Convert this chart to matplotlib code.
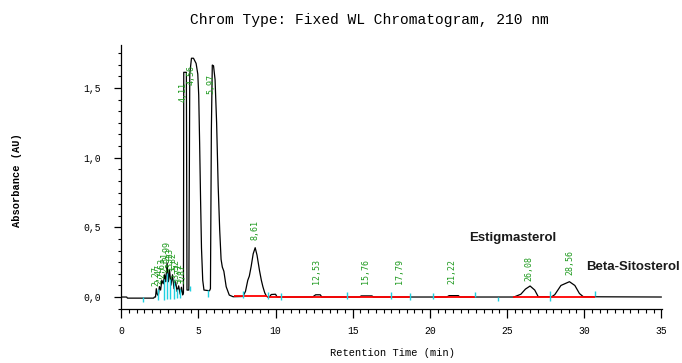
import numpy as np
import matplotlib
matplotlib.use("Agg")
import matplotlib.pyplot as plt
from matplotlib.ticker import MultipleLocator, AutoMinorLocator

# chromatogram trace (time in min, absorbance in AU)
trace_time = [0.00, 0.35, 0.40, 2.10, 2.15, 2.22, 2.27, 2.33, 2.40, 2.47,
              2.55, 2.63, 2.72, 2.81, 2.88, 2.97, 3.05, 3.13, 3.22, 3.32,
              3.42, 3.52, 3.62, 3.72, 3.82, 3.90, 3.98, 4.03, 4.05, 4.22,
              4.26, 4.38, 4.44, 4.55, 4.68, 4.85, 4.96, 5.02, 5.08, 5.14,
              5.20, 5.28, 5.36, 5.72, 5.78, 5.84, 5.90, 5.98, 6.08, 6.18,
              6.28, 6.38, 6.47, 6.55, 6.65, 6.80, 7.00, 7.25, 7.88, 8.05,
              8.20, 8.30, 8.42, 8.55, 8.68, 8.80, 8.96, 9.08, 9.18, 9.30,
              9.42, 9.60, 9.72, 10.00, 10.10, 12.40, 12.60, 12.90, 13.00, 15.45,
              15.55, 16.25, 16.35, 21.10, 21.25, 21.85, 21.95, 25.45, 25.90, 26.20,
              26.50, 26.80, 27.03, 27.90, 28.10, 28.50, 29.05, 29.40, 29.70, 29.95,
              35.00]
trace_abs = [0.000, 0.000, -0.008, -0.008, 0.000, 0.000, 0.060, 0.020, 0.010, 0.075,
             0.050, 0.120, 0.095, 0.160, 0.110, 0.245, 0.110, 0.195, 0.085, 0.160,
             0.060, 0.110, 0.040, 0.080, 0.020, 0.070, 0.015, 0.030, 1.613, 1.613,
             0.050, 0.050, 1.600, 1.714, 1.714, 1.677, 1.600, 1.450, 1.100, 0.700,
             0.350, 0.120, 0.050, 0.045, 0.060, 1.200, 1.665, 1.660, 1.560, 1.250,
             0.800, 0.480, 0.270, 0.215, 0.185, 0.074, 0.014, 0.002, 0.004, 0.040,
             0.120, 0.150, 0.220, 0.310, 0.354, 0.300, 0.190, 0.120, 0.074, 0.030,
             0.004, 0.000, 0.018, 0.020, 0.000, 0.000, 0.016, 0.016, 0.000, 0.000,
             0.008, 0.008, 0.000, 0.000, 0.010, 0.010, 0.000, 0.000, 0.020, 0.057,
             0.079, 0.050, 0.002, 0.002, 0.017, 0.083, 0.110, 0.083, 0.025, 0.002,
             0.000]

# integration baselines (red)
base_start = [7.30, 9.42, 20.20, 25.40]
base_end = [9.42, 18.70, 22.90, 30.70]
base_level = [0.010, 0.0, 0.0, 0.0]

# peak start/end markers (cyan)
mark_time = [1.38, 2.40, 2.75, 2.97, 3.18, 3.44, 3.61, 3.83, 4.45, 5.60,
             7.88, 9.50, 10.35, 14.60, 17.50, 18.70, 20.20, 22.90, 24.40, 27.80, 30.70]
mark_lo = [-0.034, -0.020, -0.020, -0.015, -0.015, -0.015, -0.010, -0.010, 0.040, 0.000,
           -0.010, -0.015, -0.020, -0.015, -0.015, -0.020, -0.015, 0.003, -0.030, -0.030, 0.005]
mark_hi = [0.000, 0.060, 0.130, 0.170, 0.130, 0.130, 0.060, 0.060, 0.080, 0.050,
           0.040, 0.035, 0.030, 0.035, 0.035, 0.030, 0.030, 0.034, 0.000, 0.040, 0.040]

# retention time labels
rt_time = [2.27, 2.47, 2.63, 2.81, 2.97, 3.13, 3.32, 3.52, 3.72, 3.90,
           4.00, 4.55, 5.78, 8.67, 12.64, 15.84, 18.03, 21.44, 26.45, 29.06]
rt_text = ["2,27", "2,47", "2,63", "2,81", "2,99", "3,13", "3,32", "3,52", "3,72", "3,87",
           "4,11", "4,56", "5,97", "8,61", "12,53", "15,76", "17,79", "21,22", "26,08", "28,56"]
rt_y = [0.08, 0.095, 0.14, 0.18, 0.26, 0.21, 0.18, 0.13, 0.10, 0.09,
        1.40, 1.52, 1.46, 0.41, 0.095, 0.095, 0.095, 0.095, 0.115, 0.16]

compounds = ["Estigmasterol", "Beta-Sitosterol"]
compound_x = [25.4, 33.2]
compound_y = [0.424, 0.215]

x_ticks = [0, 5, 10, 15, 20, 25, 30, 35]
y_ticks = [0.0, 0.5, 1.0, 1.5]
y_tick_labels = ["0,0", "0,5", "1,0", "1,5"]

mono = "Liberation Mono"

fig = plt.figure(figsize=(6.82, 3.63), dpi=100)
ax = fig.add_axes([120.5 / 682, 54 / 363, 541.5 / 682, 264 / 363])

ax.plot(trace_time, trace_abs, color="black", lw=0.9, zorder=2)
ax.hlines(base_level, base_start, base_end, color="#ff0000", lw=1.3, zorder=3)
ax.vlines(mark_time, mark_lo, mark_hi, color="#20d0e0", lw=1.0, zorder=4)

for t, s, y in zip(rt_time, rt_text, rt_y):
    ax.text(t, y, s, rotation=90, ha="center", va="bottom", fontsize=6,
            color="#1e9a1e", family="DejaVu Sans Mono", zorder=5)

for s, x, y in zip(compounds, compound_x, compound_y):
    ax.text(x, y, s, ha="center", va="center", fontsize=9.5, fontweight="bold",
            family="Liberation Sans", color="#1a1a1a", clip_on=False)

ax.set_xlim(-0.05, 35.05)
ax.set_ylim(-0.086, 1.809)
ax.set_xticks(x_ticks)
ax.set_xticklabels([str(v) for v in x_ticks], family=mono, fontsize=7)
ax.set_yticks(y_ticks)
ax.set_yticklabels(y_tick_labels, family=mono, fontsize=7)
ax.xaxis.set_minor_locator(MultipleLocator(0.5))
ax.yaxis.set_minor_locator(AutoMinorLocator(6))
ax.tick_params(axis="x", which="major", length=6.5, width=0.9, pad=6)
ax.tick_params(axis="x", which="minor", length=3, width=0.8)
ax.tick_params(axis="y", which="major", length=5, width=0.9, pad=9)
ax.tick_params(axis="y", which="minor", length=2.5, width=0.8)

for side in ["top", "right"]:
    ax.spines[side].set_visible(False)
for side in ["left", "bottom"]:
    ax.spines[side].set_linewidth(0.9)

fig.text(0.542, 0.945, "Chrom Type: Fixed WL Chromatogram, 210 nm",
         ha="center", va="center", family=mono, fontsize=10.5)
fig.text(0.576, 0.028, "Retention Time (min)", ha="center", va="center",
         family=mono, fontsize=7.5)
fig.text(0.025, 0.504, "Absorbance (AU)", ha="center", va="center", rotation=90,
         family=mono, fontsize=7.5, fontweight="bold")

fig.savefig("out.png", dpi=100)
